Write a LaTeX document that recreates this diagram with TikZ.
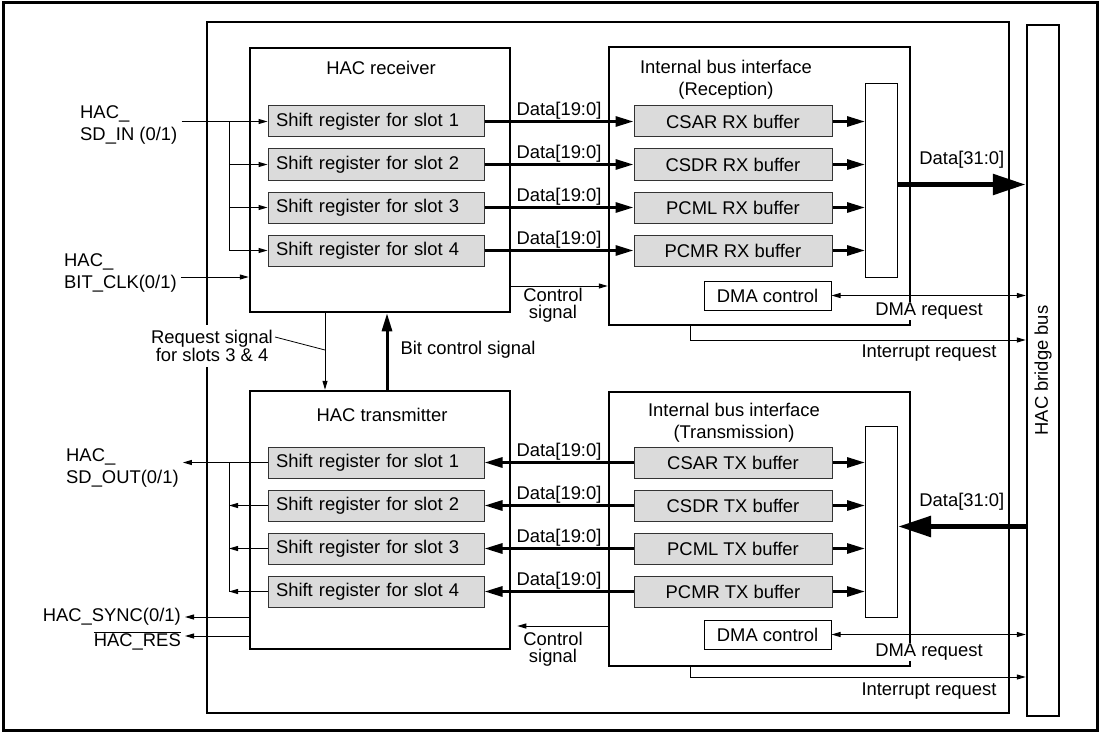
\documentclass[tikz,border=0pt]{standalone}
\usepackage{fontspec}
\setmainfont{Liberation Sans}
\usetikzlibrary{arrows.meta}

\begin{document}
\begin{tikzpicture}[x=1pt, y=-1pt, font=\fontsize{18.4}{22}\selectfont,
    box/.style={draw, line width=2.5pt, inner sep=0pt},
    sreg/.style={draw=black!80, fill=black!14, line width=1pt, minimum height=31pt,
      text width=200pt, inner xsep=8pt, inner ysep=0pt, align=left},
    buf/.style={draw=black!80, fill=black!14, line width=1pt, minimum width=198pt,
      minimum height=31pt, inner sep=0pt},
    mux/.style={draw, line width=1pt, minimum width=32pt, inner sep=0pt},
    dmabox/.style={draw, line width=1pt, minimum width=127pt, minimum height=29pt, inner sep=0pt},
    sig/.style={line width=1pt, -{Triangle[length=9pt,width=5pt]}},
    dbus/.style={line width=3pt, -{Triangle[length=18pt,width=10pt]}},
    wide/.style={line width=5.5pt, -{Triangle[length=33pt,width=20pt]}},
    pinlbl/.style={inner sep=4pt, align=left},
    tight/.style={font=\fontsize{18.4}{17}\selectfont, align=center},
    dlbl/.style={midway, above, inner sep=1pt}]
  \useasboundingbox (0,0) rectangle (1100,733);
  \draw[line width=3pt] (3,3) rectangle (1097,730);   % outer frame

  % blocks
  \node[box, minimum width=802pt, minimum height=691pt] (hac) at (608,367.5) {};
  \node[box, minimum width=32pt, minimum height=691pt] (bus) at (1043,370.5) {};
  \node[rotate=90] (buslbl) at (bus) {HAC bridge bus};
  \node[box, minimum width=260pt, minimum height=264pt] (rx) at (380,180) {};
  \node[box, minimum width=260pt, minimum height=258pt] (tx) at (380,520) {};
  \node[box, minimum width=301pt, minimum height=278pt] (rxif) at (759.5,186) {};
  \node[box, minimum width=301pt, minimum height=274pt] (txif) at (759.5,529) {};
  \node (rxtitle) at (381,68) {HAC receiver};
  \node (txtitle) at (382,415) {HAC transmitter};
  \node[align=center] (rxiftitle) at (726,79.5) {Internal bus interface\\(Reception)};
  \node[align=center] (txiftitle) at (734,422.5) {Internal bus interface\\(Transmission)};

  % receive side
  \node[sreg] (rxsr1) at (376,121.5) {Shift register for slot 1};
  \node[sreg] (rxsr2) at (376,164.5) {Shift register for slot 2};
  \node[sreg] (rxsr3) at (376,207.5) {Shift register for slot 3};
  \node[sreg] (rxsr4) at (376,250.5) {Shift register for slot 4};
  \node[buf] (rxbuf1) at (733,121.5) {CSAR RX buffer};
  \node[buf] (rxbuf2) at (733,164.5) {CSDR RX buffer};
  \node[buf] (rxbuf3) at (733,207.5) {PCML RX buffer};
  \node[buf] (rxbuf4) at (733,250.5) {PCMR RX buffer};
  \node[mux, minimum height=193pt] (rxmux) at (881.5,180.5) {};
  \node[dmabox] (rxdma) at (767.5,295.5) {DMA control};

  % transmit side
  \node[sreg] (txsr1) at (376,462.5) {Shift register for slot 1};
  \node[sreg] (txsr2) at (376,505.5) {Shift register for slot 2};
  \node[sreg] (txsr3) at (376,548.5) {Shift register for slot 3};
  \node[sreg] (txsr4) at (376,591.5) {Shift register for slot 4};
  \node[buf] (txbuf1) at (733,462.5) {CSAR TX buffer};
  \node[buf] (txbuf2) at (733,505.5) {CSDR TX buffer};
  \node[buf] (txbuf3) at (733,548.5) {PCML TX buffer};
  \node[buf] (txbuf4) at (733,591.5) {PCMR TX buffer};
  \node[mux, minimum height=191pt] (txmux) at (881.5,521.5) {};
  \node[dmabox] (txdma) at (767.5,634.5) {DMA control};

  % shift registers <-> buffers
  \draw[dbus] (rxsr1.east) -- (rxbuf1.west) node[dlbl] (rxd1) {Data[19:0]};
  \draw[dbus] (rxsr2.east) -- (rxbuf2.west) node[dlbl] (rxd2) {Data[19:0]};
  \draw[dbus] (rxsr3.east) -- (rxbuf3.west) node[dlbl] (rxd3) {Data[19:0]};
  \draw[dbus] (rxsr4.east) -- (rxbuf4.west) node[dlbl] (rxd4) {Data[19:0]};
  \draw[dbus] (txbuf1.west) -- (txsr1.east) node[dlbl] (txd1) {Data[19:0]};
  \draw[dbus] (txbuf2.west) -- (txsr2.east) node[dlbl] (txd2) {Data[19:0]};
  \draw[dbus] (txbuf3.west) -- (txsr3.east) node[dlbl] (txd3) {Data[19:0]};
  \draw[dbus] (txbuf4.west) -- (txsr4.east) node[dlbl] (txd4) {Data[19:0]};

  % buffers -> selector
  \draw[dbus] (rxbuf1.east) -- (rxbuf1.east -| rxmux.west);
  \draw[dbus] (rxbuf2.east) -- (rxbuf2.east -| rxmux.west);
  \draw[dbus] (rxbuf3.east) -- (rxbuf3.east -| rxmux.west);
  \draw[dbus] (rxbuf4.east) -- (rxbuf4.east -| rxmux.west);
  \draw[dbus] (txbuf1.east) -- (txbuf1.east -| txmux.west);
  \draw[dbus] (txbuf2.east) -- (txbuf2.east -| txmux.west);
  \draw[dbus] (txbuf3.east) -- (txbuf3.east -| txmux.west);
  \draw[dbus] (txbuf4.east) -- (txbuf4.east -| txmux.west);

  % 32 bit data to / from the bridge bus
  \draw[wide] ([yshift=-4pt]rxmux.east) -- ([yshift=-4pt]rxmux.east -| bus.west)
    node[midway, above=12pt, inner sep=1pt] (rxw) {Data[31:0]};
  \draw[wide] ([yshift=-5pt]txmux.east -| bus.west) -- ([yshift=-5pt]txmux.east)
    node[midway, above=12pt, inner sep=1pt] (txw) {Data[31:0]};

  % DMA and interrupt requests
  \draw[line width=1pt, {Triangle[length=9pt,width=5pt]}-{Triangle[length=9pt,width=5pt]}]
    (rxdma.east) -- (rxdma.east -| bus.west);
  \draw[line width=1pt, {Triangle[length=9pt,width=5pt]}-{Triangle[length=9pt,width=5pt]}]
    (txdma.east) -- (txdma.east -| bus.west);
  \node[fill=white, inner sep=1pt] (rxdmareq) at (929,311) {DMA request};
  \node[fill=white, inner sep=1pt] (txdmareq) at (929,652) {DMA request};
  \coordinate (rxirq) at (690,340);
  \coordinate (txirq) at (690,677);
  \draw[sig] (rxif.south -| rxirq) |- (bus.west |- rxirq);
  \draw[sig] (txif.south -| txirq) |- (bus.west |- txirq);
  \node (rxirqlbl) at (929,353) {Interrupt request};
  \node (txirqlbl) at (929,691) {Interrupt request};

  % control signals
  \coordinate (rxctl) at (0,286);
  \coordinate (txctl) at (0,626);
  \draw[sig] (rx.east |- rxctl) -- (rxif.west |- rxctl);
  \draw[sig] (txif.west |- txctl) -- ([xshift=6pt]tx.east |- txctl);
  \node[tight] (rxctllbl) at (553,305) {Control\\signal};
  \node[tight] (txctllbl) at (553,649) {Control\\signal};

  % receiver <-> transmitter
  \coordinate (req) at (325,350);
  \coordinate (bitc) at (387,0);
  \draw[sig] (rx.south -| req) -- (tx.north -| req);
  \node[tight, fill=white, inner xsep=2pt, inner ysep=5pt] (reqlbl) at (212,346) {Request signal\\for slots 3 \& 4};
  \draw[line width=0.8pt] ([yshift=9pt]reqlbl.east) -- (req);
  \draw[line width=3pt, -{Triangle[length=18pt,width=10pt]}] (tx.north -| bitc) -- (rx.south -| bitc);
  \node[anchor=west] (bitclbl) at (397,350) {Bit control signal};

  % external pins
  \node[pinlbl, anchor=west] (sdin) at (76,125) {HAC\_\\SD\_IN (0/1)};
  \node[pinlbl, anchor=west] (bitclk) at (60,272.5) {HAC\_\\BIT\_CLK(0/1)};
  \node[pinlbl, anchor=west] (sdout) at (62,467.5) {HAC\_\\SD\_OUT(0/1)};
  \node[pinlbl, anchor=east] (sync) at (185,617) {HAC\_SYNC(0/1)};
  \node[pinlbl, anchor=east] (res) at (185,641) {$\overline{\mbox{HAC\_RES}}$};
  \coordinate (inj) at (229,0);
  \coordinate (clkin) at (0,277);
  \draw[sig] (sdin.east |- rxsr1) -- (rxsr1.west);
  \draw[line width=1pt] (inj |- rxsr1) -- (inj |- rxsr4);
  \draw[sig] (inj |- rxsr2) -- (rxsr2.west);
  \draw[sig] (inj |- rxsr3) -- (rxsr3.west);
  \draw[sig] (inj |- rxsr4) -- (rxsr4.west);
  \draw[sig] (bitclk.east |- clkin) -- (rx.west |- clkin);
  \draw[sig] (txsr1.west) -- (sdout.east |- txsr1);
  \draw[line width=1pt] (inj |- txsr1) -- (inj |- txsr4);
  \draw[sig] (txsr2.west) -- (inj |- txsr2);
  \draw[sig] (txsr3.west) -- (inj |- txsr3);
  \draw[sig] (txsr4.west) -- (inj |- txsr4);
  \draw[sig] (tx.west |- sync) -- (sync.east);
  \draw[sig] (tx.west |- 0,636) -- (res.east |- 0,636);
\end{tikzpicture}
\end{document}
